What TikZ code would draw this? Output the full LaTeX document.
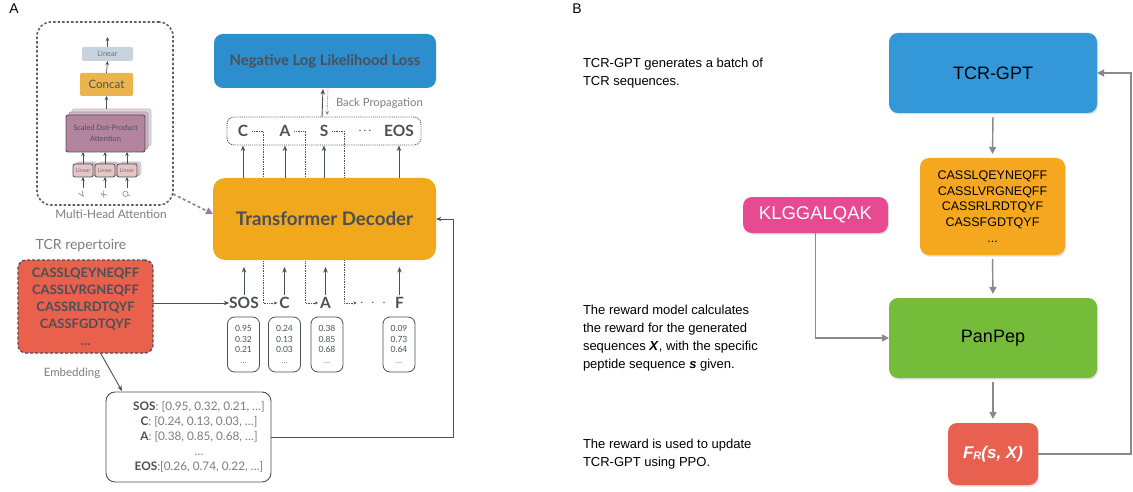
\documentclass[tikz,border=0pt]{standalone}
\usepackage{fontspec}
\setmainfont{Lato}
\newfontfamily\hel{Liberation Sans}
\usetikzlibrary{arrows.meta,backgrounds,shadows,calc}
\definecolor{txt}{HTML}{4B4F57}
\definecolor{lgray}{HTML}{7A7D82}
\definecolor{nllblue}{HTML}{2D8ECE}
\definecolor{decor}{HTML}{F1A81D}
\definecolor{repred}{HTML}{E9604D}
\definecolor{linc}{HTML}{C7D4E0}
\definecolor{concatc}{HTML}{EBB44E}
\definecolor{sdpac}{HTML}{B4849F}
\definecolor{slin}{HTML}{E8C5C5}
\definecolor{mhaarrow}{HTML}{A07A9A}
\definecolor{bpred}{HTML}{C07070}
\definecolor{bblue}{HTML}{3498D8}
\definecolor{borange}{HTML}{F5A81F}
\definecolor{bgreen}{HTML}{76BC3B}
\definecolor{bred}{HTML}{E8604F}
\definecolor{bpink}{HTML}{E84A92}
\definecolor{barrow}{HTML}{8A8A8A}
\tikzset{
  every node/.style={inner sep=0pt, outer sep=0pt},
  arrS/.style={-{Stealth[length=4pt,width=3.5pt]}, draw=txt, line width=0.7pt},
  arrA/.style={-{Stealth[length=5.5pt,width=4.5pt]}, draw=txt, line width=0.9pt},
  arrB/.style={-{Triangle[length=7pt,width=7pt]}, draw=barrow, line width=1.4pt},
  dotarr/.style={densely dotted, draw=txt, line width=0.7pt, -{Stealth[length=3.5pt,width=3pt]}},
  tok/.style={font=\fontsize{15.5}{15.5}\selectfont\bfseries, text=txt},
  vecbox/.style={draw=txt, line width=0.8pt, rounded corners=7pt, minimum width=32pt, minimum height=55pt, align=center, font=\fontsize{8.5}{10.7}\selectfont, text=txt},
  bbox/.style={rounded corners=9pt, drop shadow={opacity=0.25, shadow xshift=1pt, shadow yshift=-1.5pt}},
  btext/.style={font=\hel\fontsize{13}{18}\selectfont, align=left, anchor=west, text=black},
  shadowbox/.style={rounded corners=2pt, line width=0.6pt},
}
\begin{document}
\begin{tikzpicture}[x=1pt,y=-1pt]
\useasboundingbox (0,0) rectangle (1133,492);

% panel labels
\node[font=\hel\fontsize{14}{14}\selectfont] (labA) at (14,9) {A};
\node[font=\hel\fontsize{14}{14}\selectfont] (labB) at (577,9) {B};

% ---------------- Multi-head attention inset
\node[draw=txt!90, line width=1.6pt, dash pattern=on 2.5pt off 2pt, rounded corners=14pt, minimum width=136pt, minimum height=183pt] (mha) at (105,113.5) {};
\node[font=\fontsize{11.8}{12}\selectfont, text=lgray] (mhal) at (111,214) {Multi-Head Attention};
\node[fill=linc, rounded corners=2pt, minimum width=51pt, minimum height=14pt, font=\fontsize{7.5}{8}\selectfont, text=txt!80] (lin) at (107.5,54) {Linear};
\node[fill=concatc, rounded corners=2pt, minimum width=53pt, minimum height=23pt, font=\fontsize{11.5}{12}\selectfont, text=txt] (concat) at (106.5,84.5) {Concat};
\node[shadowbox, fill=sdpac!35, draw=txt!35, minimum width=79pt, minimum height=37pt] (sdpa3) at (111.5,127.5) {};
\node[shadowbox, fill=sdpac!60, draw=txt!55, minimum width=79pt, minimum height=37pt] (sdpa2) at (108.5,130.5) {};
\node[shadowbox, fill=sdpac, draw=txt, line width=0.9pt, minimum width=79pt, minimum height=37pt, align=center, font=\fontsize{7.5}{11}\selectfont, text=txt] (sdpa) at (105.5,133.5) {Scaled Dot-Product\\Attention};
\foreach \x/\n in {83/l1,105/l2,127/l3}{
  \node[shadowbox, fill=slin!50, draw=txt!35, minimum width=20pt, minimum height=13pt] (\n c) at (\x+4,168.5) {};
  \node[shadowbox, fill=slin!75, draw=txt!55, minimum width=20pt, minimum height=13pt] (\n b) at (\x+2,169.5) {};
  \node[shadowbox, fill=slin, draw=txt, line width=0.8pt, minimum width=20pt, minimum height=13pt, font=\fontsize{5.5}{6}\selectfont, text=txt!80] (\n) at (\x,170.5) {Linear};
}
\coordinate (linout) at (107.5,37);
\coordinate (vin) at (83,188);
\coordinate (kin) at (105,188);
\coordinate (qin) at (127,188);
\draw[arrS] (lin.north) -- (linout);
\draw[arrS] (concat.north) -- (lin.south);
\draw[arrS] (concat.south |- sdpa3.north) -- (concat.south);
\foreach \n in {l1,l2,l3}{
  \draw[arrS] (\n.north) -- (\n.north |- sdpa.south);
}
\draw[arrS] (vin) -- (l1.south);
\draw[arrS] (kin) -- (l2.south);
\draw[arrS] (qin) -- (l3.south);
\node[rotate=35, font=\fontsize{8}{8}\selectfont, text=lgray] (vl) at (82,195) {V};
\node[rotate=35, font=\fontsize{8}{8}\selectfont, text=lgray] (kl) at (104,195) {K};
\node[rotate=35, font=\fontsize{8}{8}\selectfont, text=lgray] (ql) at (126,195) {Q};

% ---------------- Decoder part
\node[fill=nllblue, rounded corners=9pt, minimum width=222pt, minimum height=54pt, font=\fontsize{14.8}{15}\selectfont\bfseries, text=txt] (nll) at (325,61) {Negative Log Likelihood Loss};
\node[fill=decor, rounded corners=12pt, minimum width=223pt, minimum height=82pt, font=\fontsize{18.7}{19}\selectfont\bfseries, text=txt] (dec) at (324.5,219) {Transformer Decoder};
\node[draw=txt, densely dotted, line width=0.9pt, rounded corners=7pt, minimum width=194pt, minimum height=28pt] (tokbox) at (324,131) {};

\node[tok] (tC) at (243,131) {C};
\node[tok] (tA) at (285,131) {A};
\node[tok] (tS) at (324,131) {S};
\node[tok] (tD) at (365,131) {$\cdot\!\cdot\!\cdot$};
\node[tok] (tE) at (399,131) {EOS};

\node[tok] (bSOS) at (244,303) {SOS};
\node[tok] (bC) at (284.5,303) {C};
\node[tok] (bA) at (325.5,303) {A};
\node[tok] (bD) at (373,303) {$\cdot\;\cdot\;\cdot$};
\node[tok] (bF) at (399.5,303) {F};

\node[vecbox] (v1) at (243.5,344.5) {0.95\\0.32\\0.21\\\textcolor{lgray}{\ldots}};
\node[vecbox] (v2) at (284.5,344.5) {0.24\\0.13\\0.03\\\textcolor{lgray}{\ldots}};
\node[vecbox] (v3) at (327,344.5) {0.38\\0.85\\0.68\\\textcolor{lgray}{\ldots}};
\node[vecbox] (v4) at (399,344.5) {0.09\\0.73\\0.64\\\textcolor{lgray}{\ldots}};

\begin{pgfonlayer}{background}
\draw[dotarr] ([xshift=4pt]tC.east) -- ++(11,0) |- ([xshift=-2pt]bC.west);
\draw[dotarr] ([xshift=4pt]tA.east) -- ++(11,0) |- ([xshift=-2pt]bA.west);
\draw[dotarr] ([xshift=4pt]tS.east) -- ++(12,0) |- ([xshift=-3pt]bD.west);
\end{pgfonlayer}

\foreach \n in {tC,tA,tS,tE}{
  \draw[arrA, shorten >=0.5pt] (\n |- dec.north) -- (\n |- tokbox.south);
}
\foreach \n in {bSOS,bC,bA,bF}{
  \draw[arrA, shorten <=2pt, shorten >=7pt] (\n.north) -- (\n |- dec.south);
}

% NLL / backprop
\draw[arrA, shorten >=1pt] ([xshift=-2pt]tokbox.north) -- ([xshift=-2pt]nll.south);
\draw[densely dotted, draw=bpred, line width=0.8pt, -{Stealth[length=4pt,width=3.5pt]}, shorten <=1pt, shorten >=2pt] ([xshift=3pt]nll.south) -- ([xshift=3pt]tokbox.north);
\node[anchor=west, font=\fontsize{11.3}{12}\selectfont, text=lgray] (bp) at (336,103) {Back Propagation};

% MHA to decoder
\coordinate (mhaout) at (173,194);
\draw[draw=mhaarrow, line width=1.6pt, dash pattern=on 3pt off 2.5pt, -{Triangle[length=7pt,width=7pt]}] (mhaout) -- ([yshift=5pt]dec.west);

% TCR repertoire
\node[font=\fontsize{14}{14}\selectfont, text=lgray] (repl) at (81,246) {TCR repertoire};
\node[fill=repred, draw=txt, line width=1.3pt, dash pattern=on 3pt off 2pt, rounded corners=8pt, minimum width=135pt, minimum height=93pt, align=center, font=\fontsize{13}{17}\selectfont\bfseries, text=txt] (rep) at (85.5,306.5) {CASSLQEYNEQFF\\CASSLVRGNEQFF\\CASSRLRDTQYF\\CASSFGDTQYF\\\ldots};
\draw[arrA] (rep.east |- bSOS.west) -- (bSOS.west);

% Embedding
\node[draw=txt, line width=0.9pt, rounded corners=9pt, fill=white, minimum width=165pt, minimum height=90pt] (emb) at (188.5,437) {};
\node[align=center, font=\fontsize{11.8}{15}\selectfont, text=lgray] (embtxt) at (199,437) {\textcolor{txt}{\bfseries SOS}: [0.95, 0.32, 0.21, \ldots]\\
\textcolor{txt}{\bfseries C}: [0.24, 0.13, 0.03, \ldots]\\
\textcolor{txt}{\bfseries A}: [0.38, 0.85, 0.68, \ldots]\\
\ldots\\
\textcolor{txt}{\bfseries EOS}:[0.26, 0.74, 0.22, \ldots]};
\draw[arrA] ([xshift=15pt]rep.south) -- ([xshift=16pt, yshift=1pt]emb.north west);
\node[font=\fontsize{11.5}{12}\selectfont, text=lgray] (embl) at (72,373) {Embedding};
\draw[arrA] (emb.east) -- ++(182,0) |- (dec.east);

% ---------------- Panel B
\node[btext] (t1) at (583,73) {TCR-GPT generates a batch of\\TCR sequences.};
\node[btext] (t2) at (583,338.5) {The reward model calculates\\the reward for the generated\\sequences \textbf{\textit{X}}, with the specific\\peptide sequence \textbf{\textit{s}} given.};
\node[btext] (t3) at (583,454.5) {The reward is used to update\\TCR-GPT using PPO.};

\node[bbox, fill=bblue, minimum width=208pt, minimum height=80pt, font=\hel\fontsize{18}{18}\selectfont] (gpt) at (993,73) {TCR-GPT};
\node[bbox, fill=borange, minimum width=145pt, minimum height=97pt, align=center, font=\hel\fontsize{12.5}{15.8}\selectfont] (seq) at (992.5,206.5) {CASSLQEYNEQFF\\CASSLVRGNEQFF\\CASSRLRDTQYF\\CASSFGDTQYF\\...};
\node[bbox, fill=bgreen, minimum width=208pt, minimum height=80pt, font=\hel\fontsize{18}{18}\selectfont] (pan) at (993,338) {PanPep};
\node[bbox, fill=bred, minimum width=90pt, minimum height=62pt, font=\hel\fontsize{17}{17}\selectfont\bfseries\itshape, text=white] (fr) at (993,454) {F\raisebox{-1.5pt}{\fontsize{11}{11}\selectfont R}(s, X)};
\node[bbox, fill=bpink, minimum width=145pt, minimum height=36pt, font=\hel\fontsize{18.5}{18.5}\selectfont, text=white] (klg) at (815.5,215) {KLGGALQAK};

\draw[arrB, shorten <=4pt, shorten >=4pt] (gpt.south) -- (seq.north);
\draw[arrB, shorten <=4pt, shorten >=4pt] (seq.south) -- (pan.north);
\draw[arrB, shorten <=4pt, shorten >=4pt] (pan.south) -- (fr.north);
\draw[arrB] (fr.east) -- ++(93,0) |- (gpt.east);
\draw[arrB] (klg.south) |- (pan.west);
\end{tikzpicture}
\end{document}
